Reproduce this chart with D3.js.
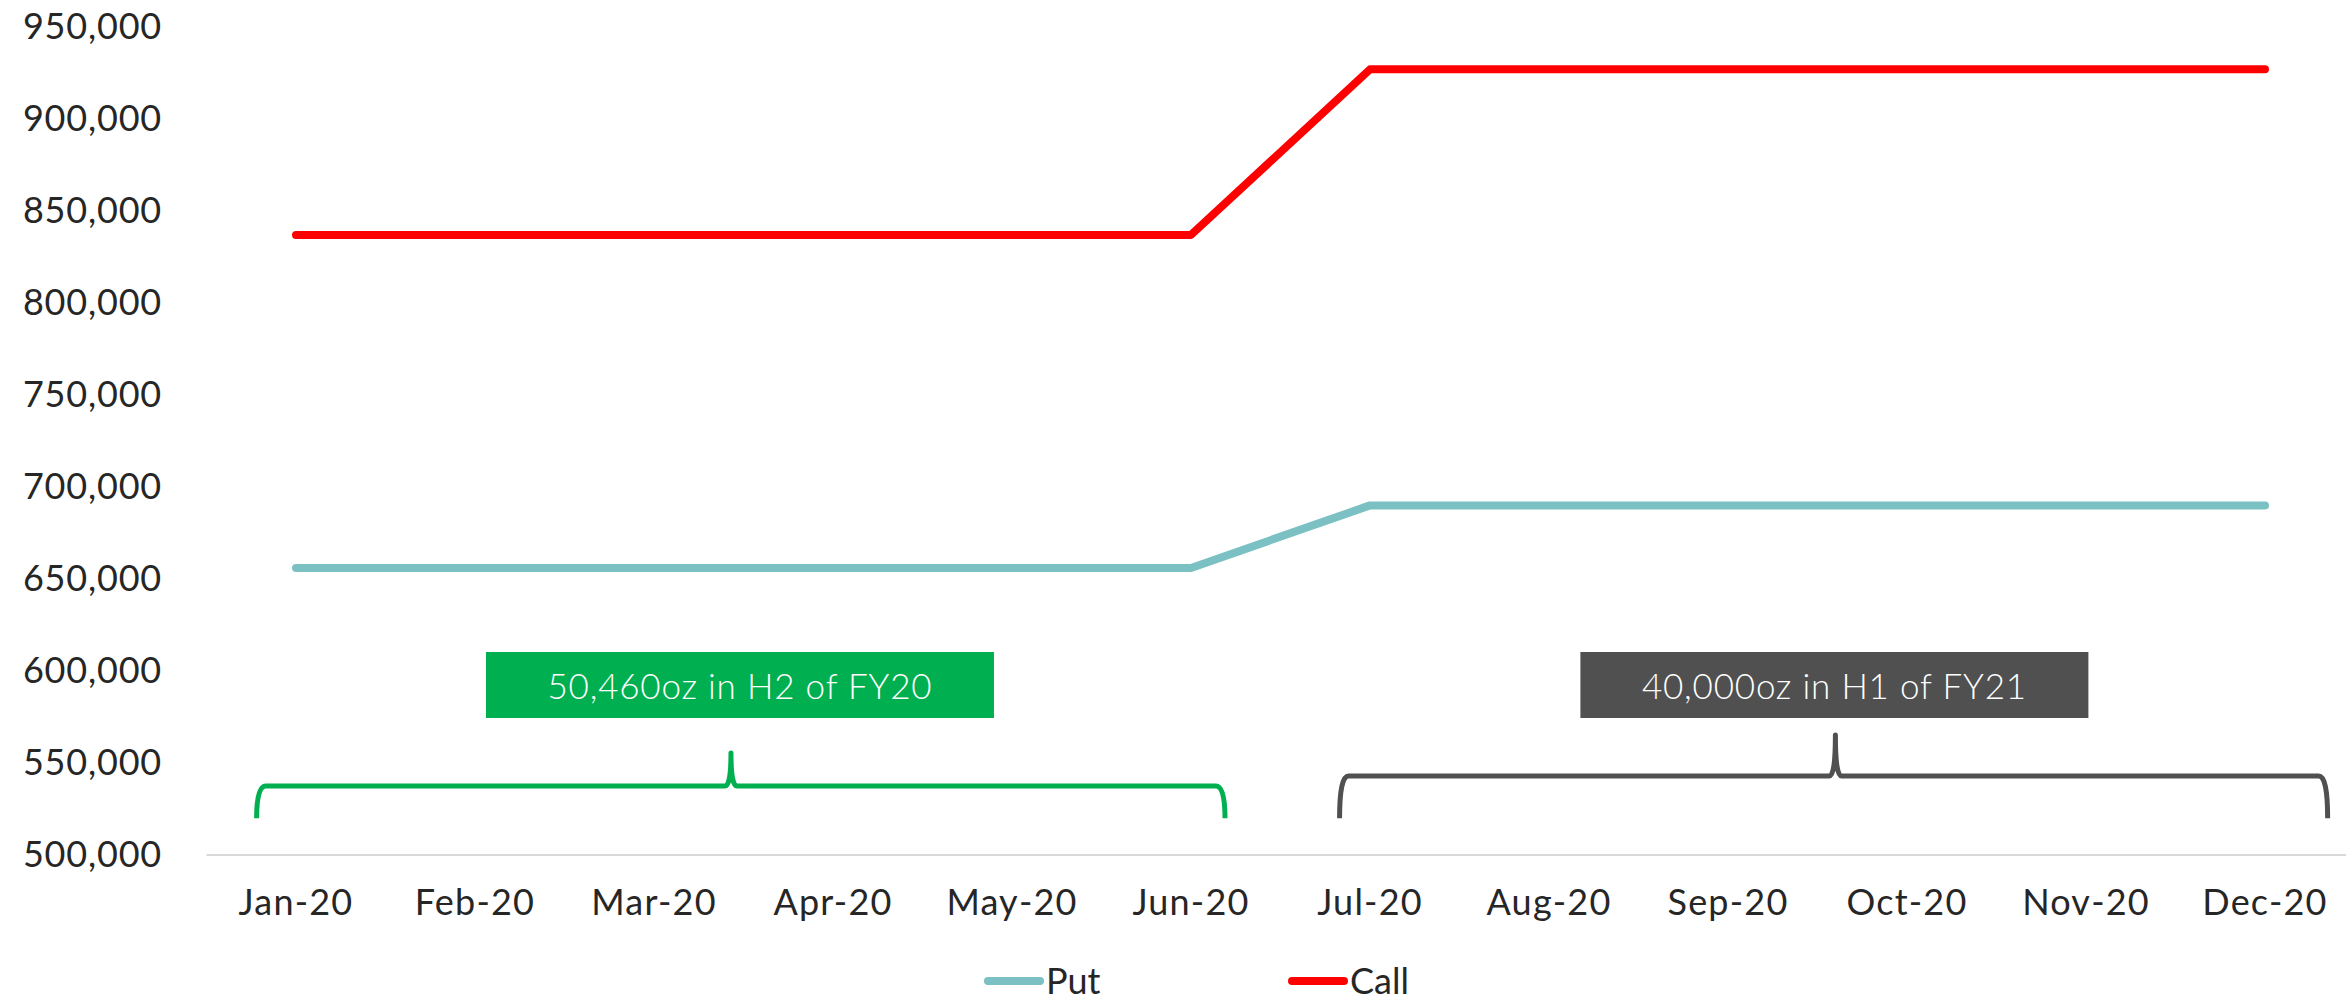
<!DOCTYPE html>
<html>
<head>
<meta charset="utf-8">
<script src="https://cdn.jsdelivr.net/npm/d3@7"></script>
<style>
  body { margin: 0; background: #fff; }
  text { font-family: Lato, "Open Sans", sans-serif; fill: #262626; }
</style>
</head>
<body>
<script>
const months = ["Jan-20","Feb-20","Mar-20","Apr-20","May-20","Jun-20",
                "Jul-20","Aug-20","Sep-20","Oct-20","Nov-20","Dec-20"];
const putValues  = [656000,656000,656000,656000,656000,656000,
                    690000,690000,690000,690000,690000,690000];
const callValues = [837000,837000,837000,837000,837000,837000,
                    927000,927000,927000,927000,927000,927000];
const yTicks = [500000,550000,600000,650000,700000,750000,800000,850000,900000,950000];

// bracket annotations, in month-index / value units
const bracketLabels = ["50,460oz in H2 of FY20", "40,000oz in H1 of FY21"];
const bracketFrom   = [-0.22, 5.83];
const bracketTo     = [5.19, 11.35];
const bracketTip    = [2.43, 8.6];
const bracketLine   = [537500, 543000];
const bracketColors = ["#00b050", "#505050"];

const w = 2346, h = 1001;
const svg = d3.select("body").append("svg")
  .attr("width", w)
  .attr("height", h);

const x = d3.scaleBand().domain(months).range([206.5, 206.5 + 12 * 179]);
const y = d3.scaleLinear().domain([500000, 950000]).range([855, 27]);
const xi = i => x(months[0]) + x.bandwidth() / 2 + i * x.step();

// baseline axis
svg.append("line")
  .attr("x1", x.range()[0]).attr("x2", x.range()[1])
  .attr("y1", y(500000)).attr("y2", y(500000))
  .attr("stroke", "#d9d9d9").attr("stroke-width", 2);

const yAxis = svg.append("g")
  .attr("transform", "translate(162,0)")
  .call(d3.axisLeft(y).tickValues(yTicks).tickSize(0).tickPadding(0)
    .tickFormat(d3.format(",")));
yAxis.select(".domain").remove();
yAxis.selectAll("text").style("font-size", "36px").attr("fill", "#262626")
  .attr("font-family", null).style("letter-spacing", "0.8px");

const xAxis = svg.append("g")
  .attr("transform", `translate(0,${y(500000)})`)
  .call(d3.axisBottom(x).tickSize(0).tickPadding(34));
xAxis.select(".domain").remove();
xAxis.selectAll("text").style("font-size", "36px").attr("fill", "#262626")
  .attr("font-family", null).style("letter-spacing", "1.2px");

const line = d3.line()
  .x((d, i) => x(months[i]) + x.bandwidth() / 2)
  .y(d => y(d));

svg.append("path").datum(putValues)
  .attr("d", line).attr("fill", "none")
  .attr("stroke", "#7bc1c3").attr("stroke-width", 8)
  .attr("stroke-linecap", "round").attr("stroke-linejoin", "round");

svg.append("path").datum(callValues)
  .attr("d", line).attr("fill", "none")
  .attr("stroke", "#ff0000").attr("stroke-width", 8)
  .attr("stroke-linecap", "round").attr("stroke-linejoin", "round");

// curly brackets with label boxes
bracketLabels.forEach((label, k) => {
  const x0 = xi(bracketFrom[k]), x1 = xi(bracketTo[k]), xm = xi(bracketTip[k]);
  const yl = y(bracketLine[k]), yb = y(520000);
  const tipH = k === 0 ? 33 : 41;
  const r = 9;
  const p = d3.path();
  p.moveTo(x0, yb);
  p.quadraticCurveTo(x0, yl, x0 + r, yl);
  p.lineTo(xm - 6, yl);
  p.quadraticCurveTo(xm, yl, xm, yl - tipH);
  p.quadraticCurveTo(xm, yl, xm + 6, yl);
  p.lineTo(x1 - r, yl);
  p.quadraticCurveTo(x1, yl, x1, yb);
  svg.append("path").attr("d", p.toString())
    .attr("fill", "none").attr("stroke", bracketColors[k])
    .attr("stroke-width", 5).attr("stroke-linejoin", "round");

  const bw = 508, bh = 66;
  svg.append("rect")
    .attr("x", xm - bw / 2 + (k === 0 ? 9 : -1)).attr("y", 652)
    .attr("width", bw).attr("height", bh)
    .attr("fill", bracketColors[k]);
  svg.append("text")
    .attr("x", xm + (k === 0 ? 9 : -1)).attr("y", 685)
    .attr("text-anchor", "middle").attr("dominant-baseline", "central")
    .style("font-size", "35px").style("font-weight", 300)
    .style("letter-spacing", "0.8px").style("fill", "#fff")
    .text(label);
});

// legend
const legend = [{name: "Put", color: "#7bc1c3", x: 988}, {name: "Call", color: "#ff0000", x: 1292}];
const lg = svg.selectAll(".legend").data(legend).enter().append("g")
  .attr("transform", d => `translate(${d.x},981)`);
lg.append("line").attr("x1", 0).attr("x2", 52)
  .attr("stroke", d => d.color).attr("stroke-width", 8).attr("stroke-linecap", "round");
lg.append("text").attr("x", 58).attr("dy", "0.35em")
  .style("font-size", "36px").text(d => d.name);
</script>
</body>
</html>
